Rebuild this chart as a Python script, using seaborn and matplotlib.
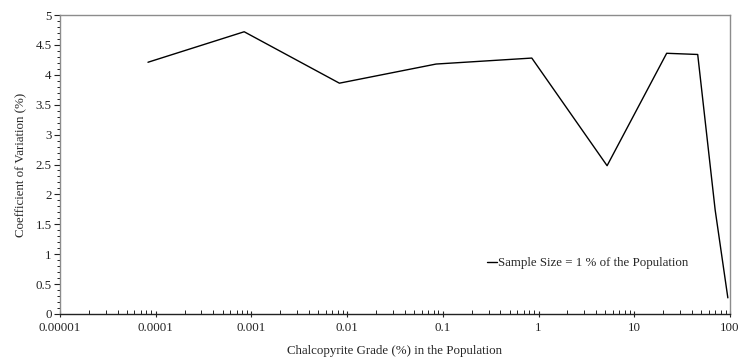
import matplotlib
matplotlib.use("Agg")
import matplotlib.pyplot as plt
import matplotlib.ticker as mticker
import seaborn as sns
import pandas as pd

grade = [0.000083, 0.00084, 0.0083, 0.085, 0.85, 5.2, 21.8, 46, 70, 95]
cv = [4.21, 4.72, 3.86, 4.18, 4.28, 2.48, 4.36, 4.34, 1.74, 0.27]
series_label = "Sample Size = 1 % of the Population"
x_ticks = [0.00001, 0.0001, 0.001, 0.01, 0.1, 1, 10, 100]
x_tick_labels = ["0.00001", "0.0001", "0.001", "0.01", "0.1", "1", "10", "100"]
y_ticks = [0, 0.5, 1, 1.5, 2, 2.5, 3, 3.5, 4, 4.5, 5]
y_tick_labels = ["0", "0.5", "1", "1.5", "2", "2.5", "3", "3.5", "4", "4.5", "5"]

df = pd.DataFrame({"grade": grade, "cv": cv, "series": series_label})

sns.set_style("white")
plt.rcParams["font.family"] = ["Liberation Serif", "DejaVu Serif"]
plt.rcParams["font.size"] = 9.3

fig = plt.figure(figsize=(7.39, 3.6), dpi=100)
ax = fig.add_axes([0.0812, 0.1278, 0.9066, 0.8305])

sns.lineplot(data=df, x="grade", y="cv", hue="series", palette=["black"],
             linewidth=1.0, ax=ax, sort=False)

ax.set_xscale("log")
ax.set_xlim(0.00001, 100)
ax.set_ylim(0, 5)
ax.set_xticks(x_ticks)
ax.set_xticklabels(x_tick_labels)
ax.xaxis.set_minor_locator(mticker.LogLocator(base=10, subs=range(2, 10), numticks=100))
ax.xaxis.set_minor_formatter(mticker.NullFormatter())
ax.set_yticks(y_ticks)
ax.set_yticklabels(y_tick_labels)
ax.yaxis.set_minor_locator(mticker.MultipleLocator(0.1))

ax.tick_params(axis="x", which="major", direction="inout", length=5, width=0.8,
               color="#333333", labelsize=9.3, pad=3)
ax.tick_params(axis="x", which="minor", direction="in", length=3, width=0.7, color="#333333")
ax.tick_params(axis="y", which="major", direction="out", length=4, width=0.8,
               color="#333333", labelsize=9.3, pad=2)
ax.tick_params(axis="y", which="minor", direction="out", length=2.5, width=0.7, color="#333333")
ax.tick_params(colors="#222222", which="both")
ax.xaxis.set_tick_params(bottom=True, which="both")
ax.yaxis.set_tick_params(left=True, which="both")

for side in ["top", "right", "left"]:
    ax.spines[side].set_color("#8c8c8c")
    ax.spines[side].set_linewidth(1.0)
ax.spines["bottom"].set_color("#222222")
ax.spines["bottom"].set_linewidth(1.0)

ax.set_xlabel("Chalcopyrite Grade (%) in the Population", fontsize=9.3, labelpad=8)
ax.set_ylabel("Coefficient of Variation (%)", fontsize=9.3, labelpad=6)

leg = ax.legend(loc="center left", bbox_to_anchor=(0.637, 0.17), frameon=False,
                fontsize=9.3, handlelength=0.8, handletextpad=0.1,
                borderpad=0, borderaxespad=0)

fig.savefig("out.png", dpi=100)
